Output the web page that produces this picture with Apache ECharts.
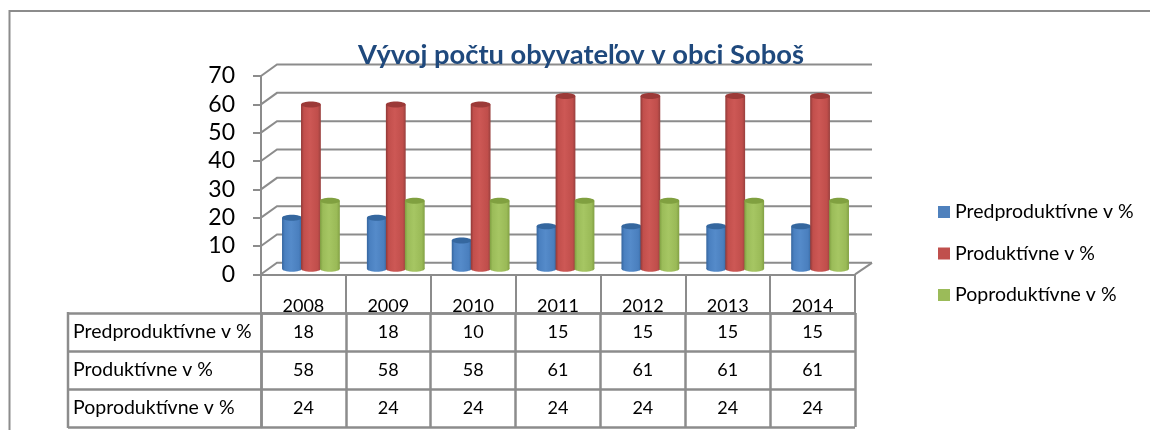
<!DOCTYPE html>
<html>
<head>
<meta charset="utf-8">
<style>html,body{margin:0;padding:0;background:#fff}#c{width:1150px;height:430px}</style>
<script src="https://cdn.jsdelivr.net/npm/echarts@6/dist/echarts.min.js"></script>
</head>
<body>
<div id="c"></div>
<script>
const chartTitle = 'Vývoj počtu obyvateľov v obci Soboš';
const years = ['2008','2009','2010','2011','2012','2013','2014'];
const tickValues = [0,10,20,30,40,50,60,70];
const predName = 'Predproduktívne v %';
const prodName = 'Produktívne v %';
const popName = 'Poproduktívne v %';
const predValues = [18,18,10,15,15,15,15];
const prodValues = [58,58,58,61,61,61,61];
const popValues = [24,24,24,24,24,24,24];

const seriesNames = [predName, prodName, popName];
const seriesValues = [predValues, prodValues, popValues];
const palettes = [
  {legend:'#4f81bd', top:'#35679f', stops:['#35659e','#4a80c0','#558bca','#4a7fbe','#386aa3']},
  {legend:'#c0504d', top:'#9c3a38', stops:['#8f3836','#c24f4c','#cd5855','#c04e4b','#98403e']},
  {legend:'#9bbb59', top:'#80a040', stops:['#7e9d40','#9bbc59','#a6c663','#9aba57','#82a044']}
];
const GRID = '#8c8c8c', FONT = 'Lato, Carlito, sans-serif';
const backDx = 16, backDy = -11.5, barDx = 7.5, barDy = -5.5, barStep = 19, barW = 19.8, capRy = 3;

function wallItem(params, api) {
  const v = api.value(1), cs = params.coordSys;
  const y = api.coord([0, v])[1];
  const style = {stroke: GRID, lineWidth: 2, fill: 'none'};
  const kids = [{type:'polyline', shape:{points:[[cs.x,y],[cs.x+backDx,y+backDy],[cs.x+cs.width+backDx+1,y+backDy]]}, style}];
  if (v === 0) kids.push({type:'line', shape:{x1:cs.x+cs.width,y1:y,x2:cs.x+cs.width+backDx+1,y2:y+backDy}, style});
  return {type:'group', children:kids};
}

function cylinderItem(s) {
  return function (params, api) {
    const cat = api.value(0), val = api.value(1);
    const cx = api.coord([cat, 0])[0] + barDx + (s - 1) * barStep;
    const y0 = api.coord([cat, 0])[1] + barDy;
    const y1 = api.coord([cat, val])[1] + barDy;
    const p = palettes[s];
    const fill = {type:'linear', x:0, y:0, x2:1, y2:0, colorStops:[
      {offset:0,color:p.stops[0]},{offset:.14,color:p.stops[1]},{offset:.45,color:p.stops[2]},{offset:.85,color:p.stops[3]},{offset:1,color:p.stops[4]}]};
    return {type:'group', children:[
      {type:'ellipse', shape:{cx, cy:y0, rx:barW/2, ry:capRy}, style:{fill}},
      {type:'rect', shape:{x:cx-barW/2, y:y1, width:barW, height:y0-y1}, style:{fill}},
      {type:'ellipse', shape:{cx, cy:y1, rx:barW/2, ry:capRy}, style:{fill:p.top}}
    ]};
  };
}

function cellItem(params, api) {
  const c = api.coord([api.value(0), api.value(1)]);
  return {type:'text', style:{text:String(api.value(2)), x:c[0], y:c[1], align:'center', verticalAlign:'middle',
    font:'18px ' + FONT, fill:'#000'}};
}

const cellData = [];
seriesValues.forEach((vals, r) => vals.forEach((v, c) => cellData.push([c, r, v])));

const chart = echarts.init(document.getElementById('c'), null, {renderer:'canvas'});
chart.setOption({
  animation:false,
  backgroundColor:'#fff',
  title:{text:chartTitle, left:576, top:37, textAlign:'center',
    textStyle:{color:'#1f497d', fontFamily:FONT, fontWeight:'bold', fontSize:27.3}},
  legend:{orient:'vertical', left:938, top:202, itemWidth:12, itemHeight:12, itemGap:21.5, icon:'rect',
    data:seriesNames, selectedMode:false, textStyle:{fontFamily:FONT, fontSize:19.5, color:'#000', padding:0}, padding:0},
  grid:[
    {left:261, top:76, width:594, height:198.3},
    {left:261, top:313, width:594, height:114}
  ],
  xAxis:[
    {type:'category', gridIndex:0, data:years, boundaryGap:true,
     axisLine:{lineStyle:{color:GRID,width:2}},
     axisTick:{show:true, alignWithLabel:false, interval:0, length:39, lineStyle:{color:GRID,width:2}},
     axisLabel:{interval:0, margin:23, fontFamily:FONT, fontSize:18, color:'#000'}},
    {type:'category', gridIndex:1, data:years, position:'top', boundaryGap:true,
     axisLine:{lineStyle:{color:GRID,width:2.5}}, axisTick:{show:false}, axisLabel:{show:false},
     splitLine:{show:true, interval:0, lineStyle:{color:GRID,width:2.5}}}
  ],
  yAxis:[
    {type:'value', gridIndex:0, min:0, max:70, interval:10,
     axisLine:{show:true, lineStyle:{color:GRID,width:2}},
     axisTick:{show:true, length:8, lineStyle:{color:GRID,width:2}},
     splitLine:{show:false},
     axisLabel:{margin:26, fontFamily:FONT, fontSize:23, color:'#000'}},
    {type:'category', gridIndex:1, data:seriesNames, inverse:true, boundaryGap:true,
     axisLine:{show:true, lineStyle:{color:GRID,width:2.5}},
     axisTick:{show:true, alignWithLabel:false, interval:0, length:193, lineStyle:{color:GRID,width:2.5}},
     splitLine:{show:true, interval:0, lineStyle:{color:GRID,width:2.5}},
     axisLabel:{interval:0, margin:188, align:'left', fontFamily:FONT, fontSize:19.5, color:'#000', padding:[0,0,4,0]}}
  ],
  series:[
    {type:'custom', name:'wall', silent:true, xAxisIndex:0, yAxisIndex:0, z:1,
     data:tickValues.map(v => [0, v]), encode:{x:0,y:1}, renderItem:wallItem},
    ...seriesNames.map((name, s) => ({
      type:'custom', name, xAxisIndex:0, yAxisIndex:0, z:3 + s,
      itemStyle:{color:palettes[s].legend},
      data:seriesValues[s].map((v, i) => [i, v]), encode:{x:0,y:1}, renderItem:cylinderItem(s)
    })),
    {type:'custom', name:'table', silent:true, xAxisIndex:1, yAxisIndex:1, z:6,
     data:cellData, encode:{x:0,y:1}, renderItem:cellItem}
  ],
  graphic:[
    {type:'polyline', silent:true, shape:{points:[[9.5,430],[9.5,11],[1150,11]]}, style:{stroke:GRID,lineWidth:2,fill:'none'}},
    {type:'line', silent:true, shape:{x1:68,y1:312,x2:68,y2:428}, style:{stroke:GRID,lineWidth:2.5}}
  ]
});
</script>
</body>
</html>
